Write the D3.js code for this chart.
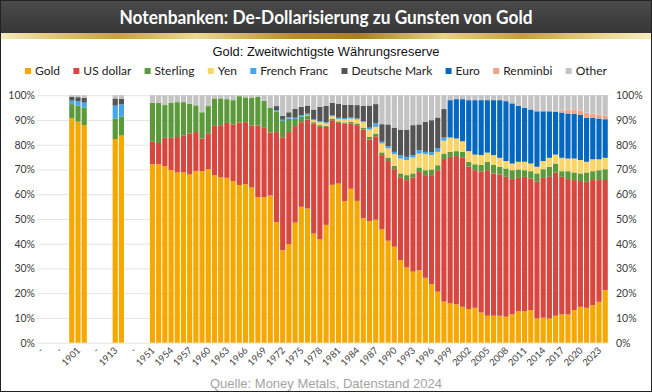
<!DOCTYPE html>
<html>
<head>
<meta charset="utf-8">
<script src="https://cdn.jsdelivr.net/npm/d3@7"></script>
<style>
  body { margin: 0; background: #fff; }
  svg { display: block; }
</style>
</head>
<body>
<svg id="chart" width="652" height="392"></svg>
<script>
// categories: early benchmark years, blank spacers ("-"), then 1951..2024
const categories = ["-", "-", "-", "-", "-", "1900", "1901", "1902", "-", "-", "-", "-", "1913", "1914", "-", "-", "-", "-"]
  .concat(d3.range(1951, 2025).map(String));

const seriesNames = ["Gold", "US dollar", "Sterling", "Yen", "French Franc", "Deutsche Mark", "Euro", "Renminbi", "Other"];
const seriesColors = ["#f5a800", "#d8473f", "#5b9a3a", "#fdd466", "#45a6ee", "#545454", "#0568c0", "#f2a383", "#c3c3c3"];
const yTicks = [0, 10, 20, 30, 40, 50, 60, 70, 80, 90, 100];

const _ = null;
// shares in % (1951..2024 rows of ten)
const gold = [_, _, _, _, _, 90.7, 89.3, 87.9, _, _, _, _, 82.3, 83.7, _, _, _, _,
  72.1, 72.1, 71.3, 69.8, 68.8, 68.8, 68.0, 69.4, 69.3, 70.1,
  67.7, 66.8, 66.6, 65.3, 63.7, 64.1, 62.7, 58.8, 58.8, 59.5,
  48.7, 37.4, 39.8, 48.5, 54.9, 54.2, 44.1, 41.7, 47.6, 63.8,
  64.3, 57.2, 62.2, 57.3, 50.3, 49.1, 49.7, 45.8, 41.2, 38.8,
  33.4, 30.4, 28.7, 29.3, 26.2, 23.6, 20.6, 16.6, 15.9, 15.5,
  14.5, 13.6, 14.1, 12.2, 10.9, 10.9, 10.9, 10.5, 11.5, 12.8,
  12.8, 13.2, 9.8, 10.1, 9.8, 10.9, 11.4, 11.4, 13.2, 14.5,
  14.1, 15.2, 16.5, 21.2];
const usDollar = [_, _, _, _, _, 0, 0, 0, _, _, _, _, 0, 0, _, _, _, _,
  9.1, 8.6, 11.5, 13.0, 14.3, 15.0, 16.6, 15.7, 13.2, 14.5,
  19.9, 21.1, 22.2, 22.9, 25.3, 25.0, 25.1, 29.0, 28.0, 25.4,
  36.4, 45.6, 45.3, 39.0, 34.2, 36.0, 44.5, 45.5, 39.6, 26.1,
  24.5, 31.4, 26.4, 30.6, 35.8, 33.0, 33.7, 30.0, 32.2, 31.3,
  33.4, 35.3, 38.1, 39.7, 41.5, 44.1, 49.1, 57.6, 59.2, 59.9,
  60.2, 57.5, 55.6, 56.9, 58.8, 57.5, 57.1, 56.5, 54.6, 53.8,
  54.2, 53.1, 55.2, 56.5, 57.2, 57.9, 55.6, 54.7, 52.5, 50.8,
  50.9, 50.5, 49.2, 44.9];
const sterling = [_, _, _, _, _, 5.7, 6.5, 7.1, _, _, _, _, 8.3, 7.6, _, _, _, _,
  15.7, 16.2, 13.2, 14.1, 14.1, 13.4, 12.0, 10.8, 10.6, 11.0,
  11.1, 10.8, 9.6, 9.8, 10.6, 10.0, 11.1, 11.5, 10.9, 10.1,
  8.3, 6.6, 5.5, 2.9, 2.2, 1.6, 0.5, 0.7, 0.5, 0.5,
  0.6, 0.4, 0.6, 0.7, 0.8, 1.1, 1.1, 1.1, 1.4, 1.4,
  1.6, 2.0, 1.6, 1.8, 2.0, 2.3, 2.0, 2.2, 2.0, 2.0,
  2.4, 2.0, 2.4, 2.7, 3.4, 3.4, 3.1, 3.4, 3.6, 3.4,
  2.7, 3.0, 3.4, 3.5, 4.1, 3.6, 2.3, 3.2, 3.1, 3.1,
  3.8, 3.6, 4.0, 4.0];
const yen = [_, _, _, _, _, 0, 0, 0, _, _, _, _, 0, 0, _, _, _, _,
  0, 0, 0, 0, 0, 0, 0, 0, 0, 0,
  0, 0, 0, 0, 0, 0, 0, 0, 0, 0,
  0, 0, 0, 0, 0, 0.2, 0.8, 1.2, 0.9, 1.1,
  1.0, 1.2, 1.3, 1.6, 2.2, 2.9, 2.7, 3.6, 3.7, 4.7,
  6.0, 6.1, 6.4, 5.6, 6.5, 5.8, 5.4, 5.2, 5.8, 5.1,
  4.3, 4.3, 3.9, 4.0, 3.7, 4.0, 3.6, 3.0, 2.7, 3.1,
  3.4, 3.1, 2.7, 3.3, 3.6, 3.6, 5.4, 5.1, 5.6, 5.4,
  4.3, 4.8, 4.4, 4.6];
const frenchFranc = [_, _, _, _, _, 1.4, 1.8, 2.0, _, _, _, _, 5.2, 5.0, _, _, _, _,
  0, 0, 0, 0, 0, 0, 0, 0, 0, 0,
  0, 0, 0, 0, 0, 0, 0, 0, 0, 0,
  0.5, 0.5, 0.5, 0.5, 0.7, 0.6, 0.5, 0.5, 0.5, 0.4,
  0.5, 0.4, 0.5, 0.4, 0.4, 0.8, 1.4, 0.7, 0.9, 0.9,
  1.4, 1.3, 1.0, 1.4, 0.9, 1.2, 1.4, 1.3, 0, 0,
  0, 0, 0, 0, 0, 0, 0, 0, 0, 0,
  0, 0, 0, 0, 0, 0, 0, 0, 0, 0,
  0, 0, 0, 0];
const deutscheMark = [_, _, _, _, _, 1.6, 1.6, 2.0, _, _, _, _, 2.9, 2.2, _, _, _, _,
  0, 0, 0, 0, 0, 0, 0, 0, 0, 0,
  0, 0, 0, 0, 0, 0, 0, 0, 0, 0,
  1.7, 1.6, 2.0, 3.6, 3.3, 3.2, 3.8, 5.7, 6.6, 5.0,
  5.7, 5.5, 5.1, 5.4, 6.2, 8.9, 7.8, 7.1, 8.8, 9.8,
  10.3, 11.0, 12.1, 10.4, 12.1, 12.9, 12.5, 11.5, 0, 0,
  0, 0, 0, 0, 0, 0, 0, 0, 0, 0,
  0, 0, 0, 0, 0, 0, 0, 0, 0, 0,
  0, 0, 0, 0];
const euro = [_, _, _, _, _, 0, 0, 0, _, _, _, _, 0, 0, _, _, _, _,
  0, 0, 0, 0, 0, 0, 0, 0, 0, 0,
  0, 0, 0, 0, 0, 0, 0, 0, 0, 0,
  0, 0, 0, 0, 0, 0, 0, 0, 0, 0,
  0, 0, 0, 0, 0, 0, 0, 0, 0, 0,
  0, 0, 0, 0, 0, 0, 0, 0, 15.1, 15.9,
  17.0, 20.6, 22.0, 22.2, 21.2, 22.2, 23.3, 24.2, 24.3, 22.6,
  21.8, 21.8, 22.4, 20.1, 18.8, 17.3, 18.3, 18.2, 18.1, 18.2,
  17.8, 16.8, 16.5, 15.6];
const renminbi = [_, _, _, _, _, 0, 0, 0, _, _, _, _, 0, 0, _, _, _, _,
  0, 0, 0, 0, 0, 0, 0, 0, 0, 0,
  0, 0, 0, 0, 0, 0, 0, 0, 0, 0,
  0, 0, 0, 0, 0, 0, 0, 0, 0, 0,
  0, 0, 0, 0, 0, 0, 0, 0, 0, 0,
  0, 0, 0, 0, 0, 0, 0, 0, 0, 0,
  0, 0, 0, 0, 0, 0, 0, 0, 0, 0,
  0, 0, 0, 0, 0, 0.5, 0.8, 1.6, 1.8, 1.8,
  2.1, 1.7, 1.6, 1.4];
const other = [_, _, _, _, _, 0.6, 0.8, 1.0, _, _, _, _, 1.3, 1.5, _, _, _, _,
  3.1, 3.1, 4.0, 3.1, 2.8, 2.8, 3.4, 4.1, 6.9, 4.4,
  1.3, 1.3, 1.6, 2.0, 0.4, 0.9, 1.1, 0.7, 2.3, 5.0,
  4.4, 8.3, 6.9, 5.5, 4.7, 4.2, 5.8, 4.7, 4.3, 3.1,
  3.4, 3.9, 3.9, 4.0, 4.3, 4.2, 3.6, 11.7, 11.8, 13.1,
  13.9, 13.9, 12.1, 11.8, 10.8, 10.1, 9.0, 5.6, 2.0, 1.6,
  1.6, 2.0, 2.0, 2.0, 2.0, 2.0, 2.0, 2.4, 3.3, 4.3,
  5.1, 5.8, 6.5, 6.5, 6.5, 6.2, 6.2, 5.8, 5.7, 6.2,
  7.0, 7.4, 7.8, 8.3];

const seriesValues = [gold, usDollar, sterling, yen, frenchFranc, deutscheMark, euro, renminbi, other];

const svg = d3.select("#chart");
const W = 652, H = 392;

// ---- header ----
const defs = svg.append("defs");
const hdr = defs.append("linearGradient").attr("id", "hdr").attr("x1", 0).attr("y1", 0).attr("x2", 0).attr("y2", 1);
hdr.append("stop").attr("offset", 0).attr("stop-color", "#4b4b4b");
hdr.append("stop").attr("offset", 1).attr("stop-color", "#363636");
const goldBand = defs.append("linearGradient").attr("id", "goldband");
[[0, "#f6ecc0"], [0.08, "#e2c77a"], [0.18, "#c9a040"], [0.3, "#ecd893"], [0.45, "#b98d2a"],
 [0.55, "#a97f1f"], [0.68, "#e9d386"], [0.8, "#c79c3c"], [0.92, "#ead58e"], [1, "#f6ecc0"]]
  .forEach(s => goldBand.append("stop").attr("offset", s[0]).attr("stop-color", s[1]));

svg.append("rect").attr("x", 0).attr("y", 0).attr("width", W).attr("height", 34).attr("fill", "url(#hdr)");
svg.append("rect").attr("x", 0).attr("y", 33).attr("width", W).attr("height", 6).attr("fill", "url(#goldband)");

svg.append("text")
  .attr("x", W / 2).attr("y", 24)
  .attr("text-anchor", "middle")
  .attr("textLength", 413).attr("lengthAdjust", "spacingAndGlyphs")
  .style("font-family", "Lato, 'Open Sans', sans-serif")
  .style("font-weight", 700)
  .style("font-size", "18px")
  .attr("fill", "#ffffff")
  .text("Notenbanken: De-Dollarisierung zu Gunsten von Gold");

svg.append("text")
  .attr("x", W / 2).attr("y", 56)
  .attr("text-anchor", "middle")
  .attr("textLength", 227).attr("lengthAdjust", "spacingAndGlyphs")
  .style("font-family", "'Liberation Sans', Arial, sans-serif")
  .style("font-size", "13.5px")
  .attr("fill", "#111")
  .text("Gold: Zweitwichtigste Währungsreserve");

// ---- scales ----
const x = d3.scaleBand()
  .domain(d3.range(categories.length))
  .range([37.7, 608.3])
  .paddingInner(0.17)
  .paddingOuter(0.085);

const y = d3.scaleLinear().domain([0, 100]).range([342.7, 95.2]);

// grid
svg.append("g").selectAll("line")
  .data(yTicks)
  .enter().append("line")
  .attr("x1", 37).attr("x2", 609)
  .attr("y1", d => y(d) + 0.5).attr("y2", d => y(d) + 0.5)
  .attr("stroke", "#e4e4e4").attr("stroke-width", 1);

// stacked bars
const rows = categories.map((c, i) => {
  const r = { i: i };
  seriesNames.forEach((s, k) => { r[s] = seriesValues[k][i] == null ? 0 : seriesValues[k][i]; });
  return r;
});
const stacked = d3.stack().keys(seriesNames)(rows);

svg.append("g").selectAll("g")
  .data(stacked)
  .enter().append("g")
  .attr("fill", (d, k) => seriesColors[k])
  .selectAll("rect")
  .data(d => d.filter(p => gold[p.data.i] != null && p[1] - p[0] > 0))
  .enter().append("rect")
  .attr("x", d => x(d.data.i))
  .attr("width", x.bandwidth())
  .attr("y", d => y(d[1]))
  .attr("height", d => y(d[0]) - y(d[1]));

// y axis labels, both sides
const tickFont = "Lato, 'Open Sans', sans-serif";
const yAxisL = svg.append("g").selectAll("text").data(yTicks).enter().append("text")
  .attr("x", 35).attr("y", d => y(d) + 4)
  .attr("text-anchor", "end")
  .style("font-family", tickFont).style("font-size", "10.5px")
  .attr("fill", "#3a3a3a")
  .text(d => d + "%");
const yAxisR = svg.append("g").selectAll("text").data(yTicks).enter().append("text")
  .attr("x", 616).attr("y", d => y(d) + 4)
  .attr("text-anchor", "start")
  .style("font-family", tickFont).style("font-size", "10.5px")
  .attr("fill", "#3a3a3a")
  .text(d => d + "%");

// x axis labels, every third category
svg.append("g").selectAll("text")
  .data(d3.range(0, categories.length, 3))
  .enter().append("text")
  .attr("transform", i => "translate(" + (x(i) + x.bandwidth() / 2 + 3) + ",351) rotate(-45)")
  .attr("text-anchor", "end")
  .style("font-family", tickFont).style("font-size", "9.5px")
  .attr("fill", "#444")
  .text(i => categories[i]);

// legend
const legend = svg.append("g");
const items = legend.selectAll("g").data(seriesNames).enter().append("g");
items.append("rect").attr("width", 6).attr("height", 6).attr("y", 68).attr("fill", (d, k) => seriesColors[k]);
items.append("text").attr("x", 10).attr("y", 75)
  .style("font-family", tickFont).style("font-size", "12px")
  .attr("fill", "#222")
  .text(d => d);
const widths = [];
items.select("text").each(function () { widths.push(this.getComputedTextLength()); });
const span = 607 - 25;
const gap = (span - d3.sum(widths) - 10 * seriesNames.length) / (seriesNames.length - 1);
let cx = 25;
items.attr("transform", (d, k) => {
  const t = "translate(" + cx + ",0)";
  cx += 10 + widths[k] + gap;
  return t;
});

// source
svg.append("text")
  .attr("x", W / 2).attr("y", 388)
  .attr("text-anchor", "middle")
  .attr("textLength", 232).attr("lengthAdjust", "spacingAndGlyphs")
  .style("font-family", "'Liberation Sans', Arial, sans-serif")
  .style("font-size", "13.5px")
  .attr("fill", "#a3a3a3")
  .text("Quelle: Money Metals, Datenstand 2024");

// frame
svg.append("rect").attr("x", 0.5).attr("y", 0.5).attr("width", W - 1).attr("height", H - 1)
  .attr("fill", "none").attr("stroke", "#222").attr("stroke-width", 1);
</script>
</body>
</html>
